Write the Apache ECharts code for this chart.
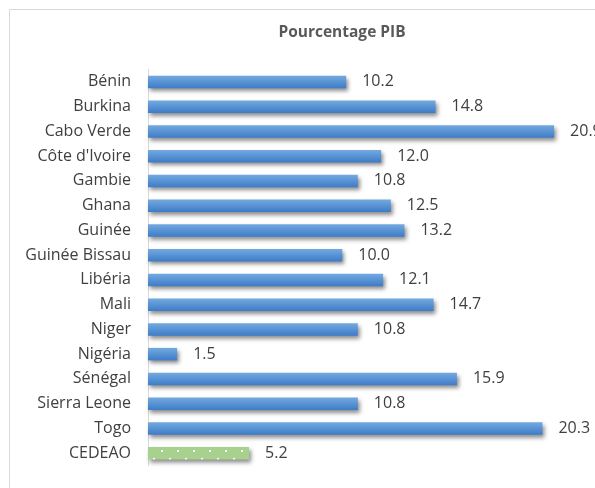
<!DOCTYPE html>
<html><head><meta charset="utf-8">
<script src="https://cdn.jsdelivr.net/npm/echarts@6/dist/echarts.min.js"></script>
<style>html,body{margin:0;padding:0;background:#fff}#c{width:595px;height:488px}</style>
</head><body><div id="c"></div>
<script>
const categories = ["Bénin","Burkina","Cabo Verde","Côte d'Ivoire","Gambie","Ghana","Guinée","Guinée Bissau","Libéria","Mali","Niger","Nigéria","Sénégal","Sierra Leone","Togo","CEDEAO"];
const values = [10.2,14.8,20.9,12.0,10.8,12.5,13.2,10.0,12.1,14.7,10.8,1.5,15.9,10.8,20.3,5.2];
const titleText = "Pourcentage PIB";

const pc = document.createElement('canvas');
pc.width = 16; pc.height = 16;
const g = pc.getContext('2d');
g.fillStyle = '#a9d18e'; g.fillRect(0,0,16,16);
g.fillStyle = '#ffffff';
g.fillRect(1,2,2,2); g.fillRect(9,10,2,2);

const blue = new echarts.graphic.LinearGradient(0,0,0,1,[{offset:0,color:'#74aae0'},{offset:1,color:'#3e7cc8'}]);
const data = values.map((v,i)=>({
  value: v,
  itemStyle: i === values.length-1 ? {color:{image:pc, repeat:'repeat'}} : {color: blue}
}));
const font = '"Open Sans", Lato, sans-serif';
const chart = echarts.init(document.getElementById('c'));
chart.setOption({
  animation:false,
  title:{text:titleText,left:337,top:20,textAlign:'center',textStyle:{fontFamily:font,fontSize:15.5,fontWeight:'bold',color:'#595959'}},
  graphic:[{type:'rect',shape:{x:9.5,y:9.5,width:700,height:600},style:{fill:'none',stroke:'#d9d9d9',lineWidth:1},silent:true}],
  grid:{left:148,right:4,top:69.5,bottom:22.5},
  xAxis:{type:'value',min:0,max:22.8,show:false},
  yAxis:[{type:'category',data:categories,inverse:true,
    axisLine:{lineStyle:{color:'#d9d9d9'}},
    axisTick:{length:5,lineStyle:{color:'#d9d9d9'}},
    axisLabel:{fontFamily:font,fontSize:16,color:'#404040',margin:17}},
   {type:'category',data:categories,inverse:true,position:'left',
    axisLine:{show:false},axisTick:{inside:true,length:6,lineStyle:{color:'#d9d9d9'}},axisLabel:{show:false}}],
  series:[{type:'bar',data:data,barWidth:12.5,
    itemStyle:{shadowColor:'rgba(0,0,0,0.45)',shadowBlur:4,shadowOffsetX:2,shadowOffsetY:3},
    label:{show:true,position:'right',distance:16,formatter:p=>p.value.toFixed(1),fontFamily:font,fontSize:16,color:'#404040'}}]
});
</script></body></html>
